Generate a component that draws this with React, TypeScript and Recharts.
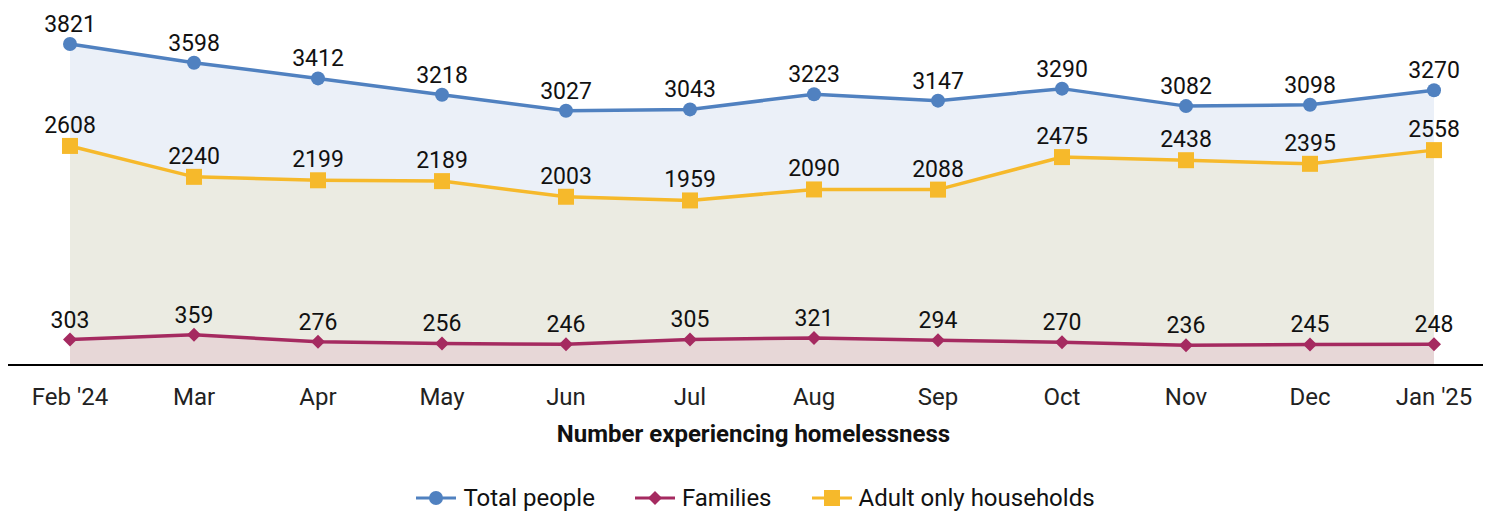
import React from "react";
import {
  ComposedChart,
  Area,
  XAxis,
  YAxis,
  Legend,
  LabelList,
} from "recharts";

// Months, Feb 2024 to Jan 2025
const MONTHS = ["Feb '24", "Mar", "Apr", "May", "Jun", "Jul", "Aug", "Sep", "Oct", "Nov", "Dec", "Jan '25"];
const TOTAL_PEOPLE = [3821, 3598, 3412, 3218, 3027, 3043, 3223, 3147, 3290, 3082, 3098, 3270];
const ADULT_ONLY = [2608, 2240, 2199, 2189, 2003, 1959, 2090, 2088, 2475, 2438, 2395, 2558];
const FAMILIES = [303, 359, 276, 256, 246, 305, 321, 294, 270, 236, 245, 248];

const BLUE = "#5081c0";
const YELLOW = "#f6b92b";
const MAROON = "#a52a60";
const FONT = "Roboto, 'Noto Sans', sans-serif";

const data = MONTHS.map((month, i) => ({
  month,
  total: TOTAL_PEOPLE[i],
  adult: ADULT_ONLY[i],
  families: FAMILIES[i],
}));

const CircleDot = (props: any) => {
  const { cx, cy } = props;
  if (cx == null || cy == null) return null;
  return <circle key={`c-${cx}`} cx={cx} cy={cy} r={7} fill={BLUE} />;
};

const SquareDot = (props: any) => {
  const { cx, cy } = props;
  if (cx == null || cy == null) return null;
  return <rect key={`s-${cx}`} x={cx - 8} y={cy - 8} width={16} height={16} fill={YELLOW} />;
};

const DiamondDot = (props: any) => {
  const { cx, cy } = props;
  if (cx == null || cy == null) return null;
  return (
    <path
      key={`d-${cx}`}
      d={`M${cx},${cy - 7} L${cx + 7},${cy} L${cx},${cy + 7} L${cx - 7},${cy} Z`}
      fill={MAROON}
    />
  );
};

const LEGEND_ITEMS = [
  { label: "Total people", color: BLUE, shape: "circle" },
  { label: "Families", color: MAROON, shape: "diamond" },
  { label: "Adult only households", color: YELLOW, shape: "square" },
];

function LegendContent() {
  return (
    <div style={{ display: "flex", justifyContent: "center", gap: 40, fontFamily: FONT, fontSize: 24, color: "#111", height: 30, paddingTop: 4, paddingLeft: 20, boxSizing: "border-box", alignItems: "center" }}>
      {LEGEND_ITEMS.map((item) => (
        <div key={item.label} style={{ display: "flex", alignItems: "center", gap: 7 }}>
          <svg width={40} height={20}>
            <line x1={0} y1={10} x2={40} y2={10} stroke={item.color} strokeWidth={3} />
            {item.shape === "circle" && <circle cx={20} cy={10} r={7} fill={item.color} />}
            {item.shape === "square" && <rect x={12} y={2} width={16} height={16} fill={item.color} />}
            {item.shape === "diamond" && <path d="M20,3 L27,10 L20,17 L13,10 Z" fill={item.color} />}
          </svg>
          <span>{item.label}</span>
        </div>
      ))}
    </div>
  );
}

export default function App() {
  const labelStyle = { fill: "#111", fontSize: 23, fontFamily: FONT };
  return (
    <div style={{ width: 1475, height: 503, overflow: "hidden" }}>
      <ComposedChart width={1475} height={503} data={data} margin={{ top: 21, right: 0, left: 0, bottom: 0 }}>
        <XAxis
          dataKey="month"
          height={116}
          padding={{ left: 62, right: 49 }}
          tickLine={false}
          axisLine={{ stroke: "#000", strokeWidth: 2 }}
          tick={{ fill: "#222", fontSize: 24, fontFamily: FONT }}
          tickMargin={17}
          interval={0}
          label={{
            value: "Number experiencing homelessness",
            position: "insideTop",
            offset: 60,
            dx: 8,
            style: { fill: "#111", fontSize: 24, fontWeight: 700, fontFamily: FONT },
          }}
        />
        <YAxis hide domain={[0, 4000]} />
        <Legend verticalAlign="bottom" content={() => <LegendContent />} />
        <Area
          type="linear"
          dataKey="total"
          stroke={BLUE}
          strokeWidth={3.5}
          fill="#ebf0f8"
          fillOpacity={1}
          dot={CircleDot}
          activeDot={false}
          isAnimationActive={false}
        >
          <LabelList dataKey="total" position="top" offset={12} style={labelStyle} />
        </Area>
        <Area
          type="linear"
          dataKey="adult"
          stroke={YELLOW}
          strokeWidth={3.5}
          fill="#ebebe2"
          fillOpacity={1}
          dot={SquareDot}
          activeDot={false}
          isAnimationActive={false}
        >
          <LabelList dataKey="adult" position="top" offset={13} style={labelStyle} />
        </Area>
        <Area
          type="linear"
          dataKey="families"
          stroke={MAROON}
          strokeWidth={3.5}
          fill="#e7d7d7"
          fillOpacity={1}
          dot={DiamondDot}
          activeDot={false}
          isAnimationActive={false}
        >
          <LabelList dataKey="families" position="top" offset={12} style={labelStyle} />
        </Area>
      </ComposedChart>
    </div>
  );
}
